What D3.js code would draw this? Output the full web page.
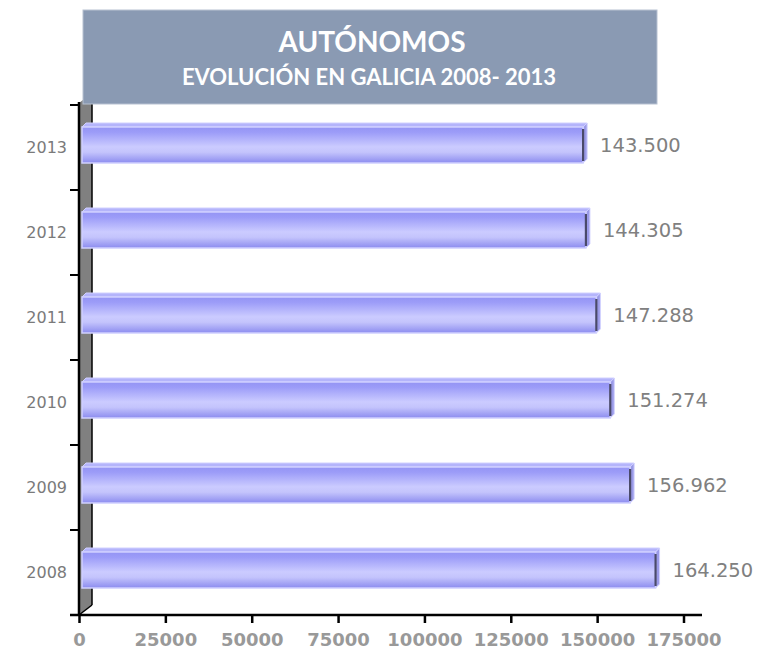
<!DOCTYPE html>
<html><head><meta charset="utf-8">
<script src="https://cdn.jsdelivr.net/npm/d3@7"></script>
<style>html,body{margin:0;padding:0;background:#fff;}</style>
</head><body>
<svg id="chart" width="769" height="656"></svg>
<script>
const categories = ["2013","2012","2011","2010","2009","2008"];
const values = [143500,144305,147288,151274,156962,164250];
const valueLabels = ["143.500","144.305","147.288","151.274","156.962","164.250"];
const xTicks = [0,25000,50000,75000,100000,125000,150000,175000];
const title = "AUTÓNOMOS";
const subtitle = "EVOLUCIÓN EN GALICIA 2008- 2013";

const svg = d3.select("#chart");
const defs = svg.append("defs");
const g1 = defs.append("linearGradient").attr("id","barGrad").attr("x1",0).attr("x2",0).attr("y1",0).attr("y2",1);
[[0,"#9494f4"],[0.15,"#9c9cf8"],[0.55,"#cbcbff"],[0.7,"#c4c4fc"],[1,"#8c8cef"]].forEach(([o,c])=>g1.append("stop").attr("offset",o).attr("stop-color",c));

const x0 = 79, x1 = 683.5, yTop = 105, yBot = 615;
const depth = {dx:13, dy:-10};
const x = d3.scaleLinear().domain([0,175000]).range([x0,x1]);
// bars sit in front plane (slightly larger projection)
const bx = d3.scaleLinear().domain([0,175000]).range([82, 82+7*87.3]);
const y = d3.scaleBand().domain(categories).range([yTop,yBot]).paddingInner(0).paddingOuter(0);

// side wall
svg.append("path")
  .attr("d",`M${x0},${yTop-2} L${x0+depth.dx},${yTop-12} L${x0+depth.dx},${yBot+depth.dy} L${x0},${yBot} Z`)
  .attr("fill","#808080");
svg.append("line").attr("x1",x0+depth.dx).attr("x2",x0+depth.dx).attr("y1",yTop-12).attr("y2",yBot+depth.dy)
  .attr("stroke","#000").attr("stroke-width",1.5);
svg.append("line").attr("x1",x0).attr("x2",x0+depth.dx).attr("y1",yBot).attr("y2",yBot+depth.dy)
  .attr("stroke","#000").attr("stroke-width",1.5);

// y axis
const yAxis = d3.axisLeft(y).tickSize(0).tickPadding(12);
const ya = svg.append("g").attr("transform",`translate(${x0},0)`).call(yAxis);
ya.select(".domain").remove();
ya.selectAll("text").attr("font-family","DejaVu Sans, sans-serif").attr("font-size","16px").attr("fill","#7a7a7a");
svg.append("line").attr("x1",x0).attr("x2",x0).attr("y1",yTop-3).attr("y2",yBot).attr("stroke","#000").attr("stroke-width",2.5);
const bounds = [yTop].concat(categories.map(c=>y(c)+y.bandwidth()));
svg.selectAll(".ytick").data(bounds).join("line")
  .attr("x1",x0-9).attr("x2",x0).attr("y1",d=>d).attr("y2",d=>d).attr("stroke","#000").attr("stroke-width",2);

// x axis
const xAxis = d3.axisBottom(x).tickValues(xTicks).tickSize(8).tickPadding(10).tickFormat(d3.format("d"));
const xa = svg.append("g").attr("transform",`translate(0,${yBot})`).call(xAxis);
xa.select(".domain").remove();
xa.selectAll(".tick line").attr("stroke","#000").attr("stroke-width",2.5);
xa.selectAll("text").attr("font-family","DejaVu Sans, sans-serif").attr("font-weight","bold").attr("font-size","18px").attr("fill","#999999");
svg.append("line").attr("x1",70).attr("x2",702).attr("y1",yBot).attr("y2",yBot).attr("stroke","#000").attr("stroke-width",2.5);

// bars
const bh = 36, dd = 4;
const bars = svg.selectAll(".bar").data(categories).join("g").attr("class","bar");
bars.each(function(c,i){
  const g = d3.select(this);
  const cy = y(c) + y.bandwidth()/2;
  const top = cy - 20.5, bot = top + bh;
  const L = bx(0), R = bx(values[i]);
  g.append("path").attr("d",`M${L},${top} L${L+dd},${top-dd} L${R+dd},${top-dd} L${R},${top} Z`)
    .attr("fill","#b4b4fb").attr("stroke","#d0d0ff").attr("stroke-width",1);
  g.append("path").attr("d",`M${R},${top} L${R+dd},${top-dd} L${R+dd},${bot-dd} L${R},${bot} Z`)
    .attr("fill","#9a9ae8").attr("stroke","#d0d0ff").attr("stroke-width",1);
  g.append("rect").attr("x",L).attr("y",top).attr("width",R-L).attr("height",bh)
    .attr("fill","url(#barGrad)").attr("stroke","#d0d0ff").attr("stroke-width",1.5);
  g.append("line").attr("x1",R).attr("x2",R).attr("y1",top+2).attr("y2",bot-2)
    .attr("stroke","#4a4a6a").attr("stroke-width",2.2);
  g.append("text").attr("x",R+17).attr("y",cy-3).attr("dy","0.36em")
    .attr("font-family","DejaVu Sans, sans-serif").attr("font-size","19.5px").attr("fill","#808080")
    .text(valueLabels[i]);
});

// title box
svg.append("rect").attr("x",83).attr("y",10).attr("width",574).attr("height",94)
  .attr("fill","#8a9ab3").attr("stroke","#b7c1d1").attr("stroke-width",1);
svg.append("text").attr("x",372).attr("y",52).attr("text-anchor","middle")
  .attr("font-family","Lato, 'Open Sans', sans-serif").attr("font-weight","bold").attr("font-size","28px")
  .attr("fill","#fff").text(title);
svg.append("text").attr("x",369).attr("y",85).attr("text-anchor","middle")
  .attr("font-family","Lato, 'Open Sans', sans-serif").attr("font-weight","bold").attr("font-size","22px")
  .attr("fill","#fff").text(subtitle);
</script>
</body></html>
